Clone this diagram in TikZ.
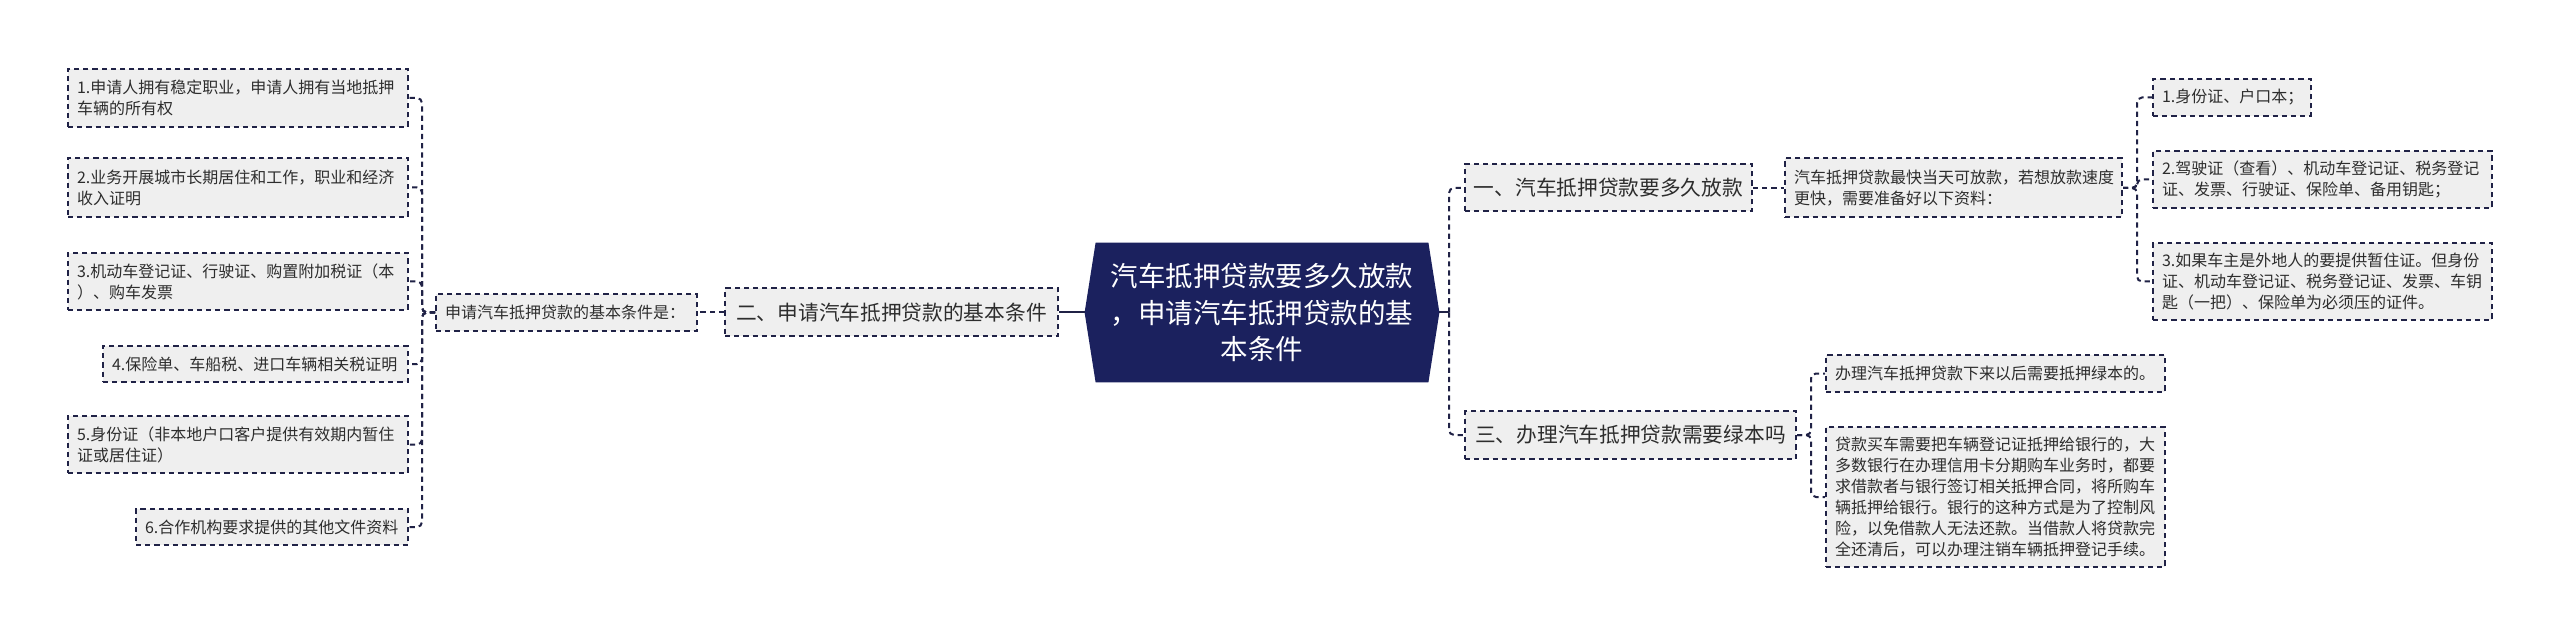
\documentclass[tikz,border=0pt]{standalone}
\usepackage{fontspec}
\setmainfont{Noto Sans CJK SC}
\usetikzlibrary{calc,backgrounds}
\definecolor{navy}{RGB}{27,33,94}
\definecolor{linec}{RGB}{32,34,70}
\definecolor{boxf}{RGB}{239,239,239}
\definecolor{txt}{RGB}{45,45,45}
\tikzset{
  box/.style={draw=linec, fill=boxf, line width=1pt, dash pattern=on 2.6pt off 2pt, text=txt, inner xsep=4.5pt, inner ysep=0pt, anchor=center},
  leafw/.style={box, text width=#1, font=\fontsize{8}{10.5}\selectfont, align=left},
  midbox/.style={box, font=\fontsize{10.35}{13}\selectfont, align=center, inner xsep=0pt},
  conn/.style={draw=linec, line width=1pt, dash pattern=on 2.6pt off 2pt, rounded corners=2.5pt},
  solidconn/.style={draw=linec, line width=1pt},
}
\begin{document}
\begin{tikzpicture}[x=0.5pt,y=-0.5pt]
\useasboundingbox (0,0) rectangle (2560,636);

% root
\node[minimum width=177pt, minimum height=69.5pt, inner sep=0pt, text=white, align=center, font=\fontsize{13.75}{18.35}\selectfont] (root) at (1262,312.5) {汽车抵押贷款要多久放款\\，申请汽车抵押贷款的基\\本条件};

% left branch
\node[midbox, minimum width=166.5pt, minimum height=24pt] (n2) at (891.5,312.5) {二、申请汽车抵押贷款的基本条件};
\node[leafw=121.5pt, minimum height=18.5pt] (n2a) at (566.5,312.5) {申请汽车抵押贷款的基本条件是：};
\node[leafw=161pt, minimum height=29pt] (L1) at (238,98) {1.申请人拥有稳定职业，申请人拥有当地抵押\\车辆的所有权};
\node[leafw=161pt, minimum height=29.5pt] (L2) at (238,187.5) {2.业务开展城市长期居住和工作，职业和经济\\收入证明};
\node[leafw=161pt, minimum height=28.5pt] (L3) at (238,281.5) {3.机动车登记证、行驶证、购置附加税证（本\\）、购车发票};
\node[leafw=143.5pt, minimum height=18pt] (L4) at (255.5,364) {4.保险单、车船税、进口车辆相关税证明};
\node[leafw=161pt, minimum height=28.5pt] (L5) at (238,444.5) {5.身份证（非本地户口客户提供有效期内暂住\\证或居住证）};
\node[leafw=127pt, minimum height=18pt] (L6) at (272,527) {6.合作机构要求提供的其他文件资料};

% right branch 1
\node[midbox, minimum width=143.5pt, minimum height=23.5pt] (n1) at (1608.5,188) {一、汽车抵押贷款要多久放款};
\node[leafw=159.5pt, minimum height=29.5pt] (n1a) at (1953.5,188) {汽车抵押贷款最快当天可放款，若想放款速度\\更快，需要准备好以下资料：};
\node[leafw=70pt, minimum height=18.5pt] (R1) at (2232,97.5) {1.身份证、户口本；};
\node[leafw=160.5pt, minimum height=28.5pt] (R2) at (2322.5,179.5) {2.驾驶证（查看）、机动车登记证、税务登记\\证、发票、行驶证、保险单、备用钥匙；};
\node[leafw=160.5pt, minimum height=38.5pt] (R3) at (2322.5,281.5) {3.如果车主是外地人的要提供暂住证。但身份\\证、机动车登记证、税务登记证、发票、车钥\\匙（一把）、保险单为必须压的证件。};

% right branch 3
\node[midbox, minimum width=165.5pt, minimum height=24pt] (n3) at (1630.5,435) {三、办理汽车抵押贷款需要绿本吗};
\node[leafw=160.5pt, minimum height=18.5pt] (B1) at (1995.5,373.5) {办理汽车抵押贷款下来以后需要抵押绿本的。};
\node[leafw=160.5pt, minimum height=70pt] (B2) at (1995.5,497) {贷款买车需要把车辆登记证抵押给银行的，大\\多数银行在办理信用卡分期购车业务时，都要\\求借款者与银行签订相关抵押合同，将所购车\\辆抵押给银行。银行的这种方式是为了控制风\\险，以免借款人无法还款。当借款人将贷款完\\全还清后，可以办理注销车辆抵押登记手续。};

% trunks
\coordinate (tL) at (422,312.5);
\coordinate (tR) at (1449,312.5);
\coordinate (tR1) at (2137,188);
\coordinate (tB) at (1811,435);

% connectors
\draw[solidconn] (root.west) -- (n2.east);
\draw[conn] (n2.west) -- (n2a.east);
\foreach \c in {L1,L2,L3,L4,L5,L6} \draw[conn] (n2a.west) -- (tL) |- (\c.east);
\draw[solidconn] (root.east) -- (tR);
\draw[conn] (tR) |- (n1.west);
\draw[conn] (tR) |- (n3.west);
\draw[conn] (n1.east) -- (n1a.west);
\foreach \c in {R1,R2,R3} \draw[conn] (n1a.east) -- (tR1) |- (\c.west);
\draw[conn] (n3.east) -- (tB) |- (B1.west);
\draw[conn] (n3.east) -- (tB) |- (B2.west);

\begin{scope}[on background layer]
\fill[white] (0,0) rectangle (2560,636);
\fill[navy] (root.west) -- ($(root.north west)+(11,0)$) -- ($(root.north east)+(-11,0)$) -- (root.east) -- ($(root.south east)+(-11,0)$) -- ($(root.south west)+(11,0)$) -- cycle;
\end{scope}
\end{tikzpicture}
\end{document}
